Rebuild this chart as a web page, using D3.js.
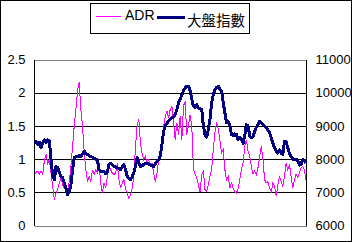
<!DOCTYPE html>
<html>
<head>
<meta charset="utf-8">
<script src="https://cdn.jsdelivr.net/npm/d3@7"></script>
<style>
  body { margin: 0; background: #fff; }
  svg { display: block; }
  .tick text { font-family: "Liberation Sans Narrow", "Liberation Sans", Arial, sans-serif; font-size: 13px; fill: #000; }
</style>
</head>
<body>
<div id="chart"></div>
<script>
// ADR series and TAIEX (大盤指數), same trading days
var adr = [
  0.77, 0.80, 0.82, 0.77, 0.82, 0.77, 0.99, 1.07, 0.94, 0.99,
  0.79, 0.59, 0.39, 0.49, 0.54, 0.64, 0.72, 0.61, 0.56, 0.54,
  0.51, 0.66, 0.89, 1.19, 1.50, 1.75, 2.03, 2.16, 1.75, 1.50,
  1.12, 0.84, 0.66, 0.74, 0.66, 0.84, 0.77, 0.84, 0.79, 0.94,
  0.64, 0.49, 0.64, 0.56, 0.74, 0.89, 0.84, 0.79, 0.77, 0.79,
  0.94, 0.69, 0.56, 0.64, 0.69, 0.56, 0.49, 0.41, 0.46, 0.56,
  0.74, 1.19, 1.50, 1.60, 1.24, 1.09, 0.99, 1.04, 0.94, 0.99,
  0.89, 0.94, 0.79, 0.66, 0.79, 0.99, 1.04, 1.24, 1.50, 1.65,
  1.72, 1.62,
  1.75, 1.80, 1.55, 1.29, 1.55, 1.37, 1.65, 1.29, 1.80, 1.87,
  1.37, 1.50, 1.67, 1.50, 0.85, 0.77, 0.72, 0.61, 0.51, 0.77,
  0.82, 0.54, 0.51, 0.61, 0.74, 0.84, 1.14, 1.40, 1.55, 1.45,
  1.29, 1.09, 1.14, 0.84, 0.69, 0.74, 0.56, 0.66, 0.56, 0.51,
  0.49, 0.56, 0.69, 0.84, 0.94, 1.19, 1.29, 1.12, 1.04, 0.89,
  0.77, 0.82, 0.77, 0.87, 1.04, 1.19, 0.99, 0.69, 0.64, 0.66,
  0.56, 0.51, 0.64, 0.59, 0.44, 0.61, 0.74, 0.66, 0.59, 0.74,
  0.94, 0.84, 0.92, 0.74, 0.56, 0.69, 0.77, 0.72, 0.79, 0.87,
  0.89, 0.84, 0.69
];
var taiex = [
  8500, 8540, 8440, 8500, 8340, 8500, 8580, 8500, 8580, 8540,
  8000, 7480, 7380, 7780, 7740, 7600, 7480, 7440, 7280, 7120,
  6920, 7020, 7220, 7680, 8040, 8080, 8080, 8100, 8080, 8160,
  8240, 8160, 8140, 8100, 8080, 8060, 8020, 8000, 7980, 7680,
  7640, 7640, 7640, 7560, 7600, 7840, 7880, 7820, 7780, 7760,
  7740, 7720, 7680, 7760, 7840, 7680, 7480, 7420, 7380, 7460,
  7600, 7780, 8040, 7900, 7780, 7800, 7840, 7860, 7880, 7840,
  7820, 7800, 7780, 7860, 7920, 7980, 8100, 8440, 8840, 9000,
  9080, 9140,
  9200, 9240, 9280, 9340, 9500, 9700, 9800, 9940, 10060, 10140,
  10200, 10200, 10060, 9800, 9600, 9540, 9640, 9540, 9520, 9500,
  9000, 8740, 8660, 8900, 9200, 9700, 9940, 10100, 10160, 10200,
  10100, 10060, 9700, 9400, 9100, 9140, 9040, 8740, 8700, 8760,
  8740, 8580, 8660, 8600, 8480, 8700, 9040, 9000, 8700, 8640,
  8680, 8840, 8960, 9040, 9140, 9100, 9040, 9000, 8940, 8880,
  8800, 8640, 8480, 8340, 8240, 8180, 8280, 8180, 8140, 8540,
  8520, 8340, 8180, 8080, 8000, 8000, 8000, 7940, 7820, 7840,
  7980, 7960, 7880
];
var leftTicks = [0, 0.5, 1, 1.5, 2, 2.5];
var rightTicks = [6000, 7000, 8000, 9000, 10000, 11000];
var seriesNames = ["ADR", "大盤指數"];

const W = 352, H = 242;
const plotL = 34.5, plotR = 306.5, plotT = 59.5, plotB = 225.5;

var svg = d3.select('#chart')
    .append('svg')
    .attr('width', W)
    .attr('height', H)

// outer frame
svg.append('rect')
    .attr('x', 0.5).attr('y', 0.5)
    .attr('width', W - 1.5).attr('height', H - 1.5)
    .attr('fill', '#fff').attr('stroke', '#000')
    .attr('shape-rendering', 'crispEdges')

var x = d3.scaleLinear()
    .domain([0, adr.length - 1])
    .range([plotL, plotR - 0.5])
var yL = d3.scaleLinear()
    .domain([0, 2.5])
    .range([plotB, plotT])
var yR = d3.scaleLinear()
    .domain([6000, 11000])
    .range([plotB, plotT])

// gridlines
var grid = svg.append('g')
    .attr('transform', 'translate(' + plotL + ',0)')
    .call(d3.axisRight(yL).tickValues(leftTicks).tickSize(plotR - plotL).tickFormat(''))
grid.select('.domain').remove()
grid.selectAll('line')
    .attr('stroke', function(d) { return (d === 0 || d === 2.5) ? '#808080' : '#000'; })
    .attr('shape-rendering', 'crispEdges')

// left axis
var axL = svg.append('g')
    .attr('transform', 'translate(' + plotL + ',0)')
    .call(d3.axisLeft(yL).tickValues(leftTicks).tickSize(0).tickPadding(9).tickFormat(d3.format('')))
axL.select('.domain').remove()

// right axis
var axR = svg.append('g')
    .attr('transform', 'translate(' + plotR + ',0)')
    .call(d3.axisRight(yR).tickValues(rightTicks).tickSize(0).tickPadding(9).tickFormat(d3.format('d')))
axR.select('.domain').remove()

// axis lines
svg.append('line')
    .attr('x1', plotL).attr('x2', plotL).attr('y1', plotT).attr('y2', plotB)
    .attr('stroke', '#000').attr('shape-rendering', 'crispEdges')
svg.append('line')
    .attr('x1', plotR).attr('x2', plotR).attr('y1', plotT).attr('y2', plotB)
    .attr('stroke', '#000').attr('shape-rendering', 'crispEdges')

var adrLine = d3.line()
    .x(function(d, i) { return x(i); })
    .y(function(d) { return yL(d); })
var idxLine = d3.line()
    .x(function(d, i) { return x(i); })
    .y(function(d) { return yR(d); })

svg.append('path')
    .datum(adr)
    .attr('d', adrLine)
    .attr('fill', 'none')
    .attr('stroke', '#ff00ff')
    .attr('stroke-width', 1)
    .attr('shape-rendering', 'crispEdges')

svg.append('path')
    .datum(taiex)
    .attr('d', idxLine)
    .attr('fill', 'none')
    .attr('stroke', '#000080')
    .attr('stroke-width', 3)
    .attr('stroke-linejoin', 'round')
    .attr('shape-rendering', 'crispEdges')

// legend
var lg = svg.append('g')
lg.append('rect')
    .attr('x', 90.5).attr('y', 3.5)
    .attr('width', 159).attr('height', 30)
    .attr('fill', '#fff').attr('stroke', '#000')
    .attr('shape-rendering', 'crispEdges')
lg.append('line')
    .attr('x1', 96).attr('x2', 121).attr('y1', 16.5).attr('y2', 16.5)
    .attr('stroke', '#ff00ff').attr('stroke-width', 1)
lg.append('text')
    .attr('x', 125).attr('y', 20)
    .style('font-family', '"Liberation Sans", Arial, sans-serif')
    .style('font-size', '14px')
    .text(seriesNames[0])
lg.append('line')
    .attr('x1', 157).attr('x2', 185).attr('y1', 17.5).attr('y2', 17.5)
    .attr('stroke', '#000080').attr('stroke-width', 3)
lg.append('text')
    .attr('x', 187).attr('y', 26)
    .style('font-family', '"Noto Sans CJK TC", "Noto Sans CJK SC", sans-serif')
    .style('font-size', '14.5px')
    .text(seriesNames[1])
</script>
</body>
</html>
